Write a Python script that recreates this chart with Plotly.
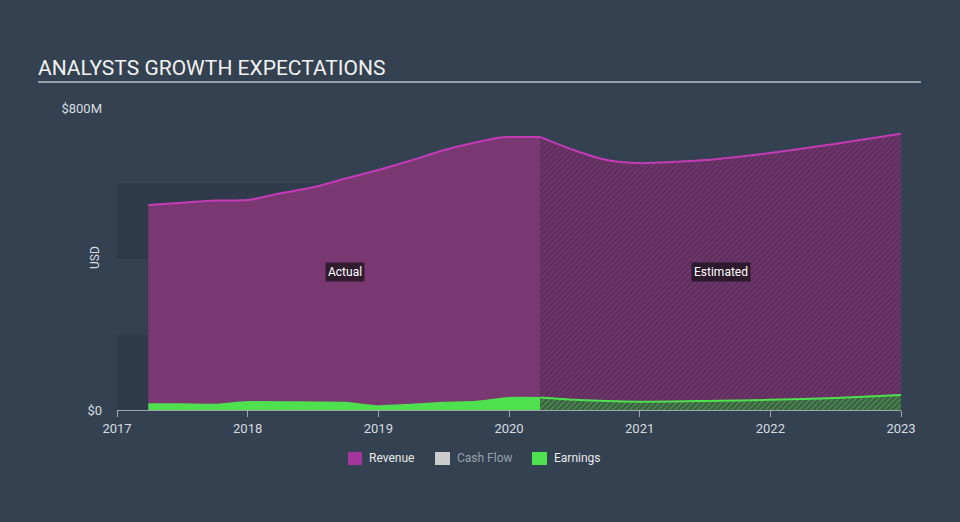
import plotly.graph_objects as go

# ---- data ----
rev_actual_x = [2017.24, 2017.5, 2017.75, 2018.0, 2018.25, 2018.5, 2018.75, 2019.0,
                2019.25, 2019.5, 2019.75, 2019.92, 2020.0, 2020.24]
rev_actual_y = [543, 549, 555, 556, 574, 590, 613, 636, 661, 688, 709, 721, 723, 723]
rev_est_x = [2020.24, 2020.5, 2020.75, 2021.0, 2021.5, 2022.0, 2022.5, 2023.0]
rev_est_y = [723, 688, 662, 654, 662, 681, 705, 732]

earn_actual_x = [2017.24, 2017.5, 2017.75, 2018.0, 2018.5, 2018.75, 2019.0, 2019.25,
                 2019.5, 2019.75, 2020.0, 2020.24]
earn_actual_y = [15, 15, 14, 21, 20, 19, 10, 14, 19, 22, 32, 32]
earn_est_x = [2020.24, 2020.5, 2021.0, 2021.5, 2022.0, 2022.5, 2023.0]
earn_est_y = [33, 27, 22, 24, 27, 32, 40]

year_ticks = [2017, 2018, 2019, 2020, 2021, 2022, 2023]
year_labels = ["2017", "2018", "2019", "2020", "2021", "2022", "2023"]
y_ticks = [0, 800]
y_labels = ["$0", "$800M"]
legend_names = ["Revenue", "Cash Flow", "Earnings"]
legend_colors = ["#a4359c", "#cccccc", "#4fe04f"]
legend_text_colors = ["#e8e8e8", "#9aa0a8", "#e8e8e8"]

BG = "#334151"
BAND = "#2f3b4a"
REV_LINE = "#c43bb6"
REV_FILL = "#7a3873"
EARN = "#4fe04f"

# pixel helpers for layout-only items (plot area: x 117..901, y 108..410)
def px_x(px):
    return (px - 117) / 784

def px_y(py):
    return (410 - py) / 302

fig = go.Figure()

fig.add_trace(go.Scatter(x=rev_actual_x, y=rev_actual_y, mode="lines",
                         line=dict(color=REV_LINE, width=2, shape="spline", smoothing=0.6),
                         fill="tozeroy", fillcolor=REV_FILL, showlegend=False,
                         hoverinfo="skip"))
fig.add_trace(go.Scatter(x=rev_est_x, y=rev_est_y, mode="lines",
                         line=dict(color=REV_LINE, width=2, shape="spline", smoothing=0.6),
                         fill="tozeroy", fillcolor="#5b2f5b",
                         fillpattern=dict(shape="/", fgcolor="#8c3a82", bgcolor="#5b2f5b",
                                          size=4, solidity=0.45),
                         showlegend=False, hoverinfo="skip"))
fig.add_trace(go.Scatter(x=earn_actual_x, y=earn_actual_y, mode="lines",
                         line=dict(color=EARN, width=2, shape="spline", smoothing=0.6),
                         fill="tozeroy", fillcolor=EARN, showlegend=False,
                         hoverinfo="skip"))
fig.add_trace(go.Scatter(x=earn_est_x, y=earn_est_y, mode="lines",
                         line=dict(color=EARN, width=2, shape="spline", smoothing=0.6),
                         fill="tozeroy", fillcolor="#3d5a45",
                         fillpattern=dict(shape="/", fgcolor="#4fc04f", bgcolor="#3d5a45",
                                          size=4, solidity=0.45),
                         showlegend=False, hoverinfo="skip"))

# Background bands
for y0, y1 in [(0, 200), (400, 600)]:
    fig.add_shape(type="rect", xref="x", yref="y", x0=2017, x1=2023, y0=y0, y1=y1,
                  fillcolor=BAND, line_width=0, layer="below")

# Title underline
fig.add_shape(type="line", xref="paper", yref="paper",
              x0=px_x(38), x1=px_x(921), y0=px_y(82), y1=px_y(82),
              line=dict(color="#9aa0a8", width=2))

# Manual legend
legend_sq = [(348, 362), (435, 450), (532, 547)]
for (sx0, sx1), name, col, tcol in zip(legend_sq, legend_names, legend_colors,
                                         legend_text_colors):
    fig.add_shape(type="rect", xref="paper", yref="paper",
                  x0=px_x(sx0), x1=px_x(sx1), y0=px_y(465), y1=px_y(452),
                  fillcolor=col, line_width=0)
    fig.add_annotation(xref="paper", yref="paper", x=px_x(sx1 + 5), y=px_y(458.5),
                       xanchor="left", yanchor="middle", text=name, showarrow=False,
                       font=dict(color=tcol, size=12, family="Roboto"))

# Annotations
fig.add_annotation(x=2018.745, y=366, text="Actual", showarrow=False,
                   font=dict(color="#ffffff", size=12, family="Roboto"),
                   bgcolor="rgba(35,22,35,0.85)", borderpad=2)
fig.add_annotation(x=2021.62, y=366, text="Estimated", showarrow=False,
                   font=dict(color="#ffffff", size=12, family="Roboto"),
                   bgcolor="rgba(35,22,35,0.85)", borderpad=2)
fig.add_annotation(xref="paper", yref="paper", x=px_x(86), y=px_y(258),
                   text="USD", textangle=-90, showarrow=False,
                   font=dict(color="#d8dce0", size=12, family="Roboto"))

fig.update_layout(
    width=960, height=522,
    paper_bgcolor=BG, plot_bgcolor=BG,
    margin=dict(l=117, r=59, t=108, b=112),
    font=dict(family="Roboto", color="#d8dce0", size=12),
    title=dict(text="ANALYSTS GROWTH EXPECTATIONS", x=38 / 960, xanchor="left",
               xref="container", y=1 - 68 / 522, yanchor="middle",
               font=dict(size=21, color="#f2f2f2", family="Roboto")),
    showlegend=False,
    xaxis=dict(range=[2017, 2023], tickvals=year_ticks, ticktext=year_labels,
               showgrid=False, zeroline=False, showline=True, linecolor="#a0a6ae",
               linewidth=1, ticks="outside", ticklen=6, tickcolor="#a0a6ae",
               tickfont=dict(size=13, color="#d8dce0"), fixedrange=True),
    yaxis=dict(range=[0, 800], tickvals=y_ticks, ticktext=y_labels,
               showgrid=False, zeroline=False, showline=False, ticks="",
               ticklabelstandoff=14,
               tickfont=dict(size=13, color="#d8dce0"),
               fixedrange=True),
)

fig.write_html("out.html", config={"displayModeBar": False},
               post_script="document.body.style.margin='0';")
